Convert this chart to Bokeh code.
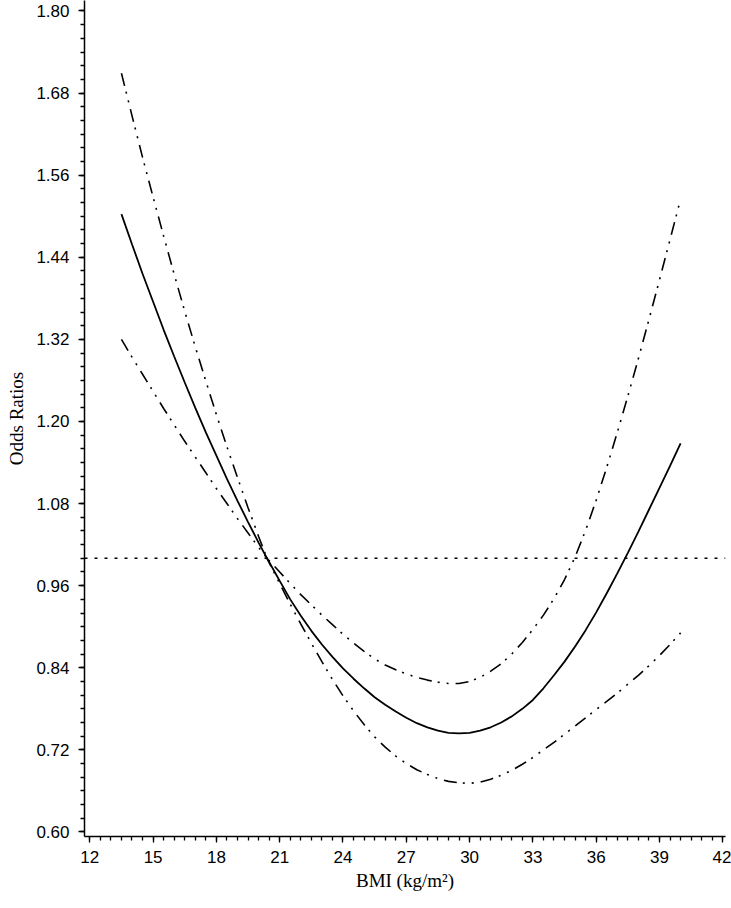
from bokeh.plotting import figure
from bokeh.models import Range1d, Span, FixedTicker, NumeralTickFormatter
from bokeh.embed import file_html
from bokeh.resources import INLINE

# BMI (kg/m^2) positions at which the curves were read
bmi = [13.5, 14, 14.5, 15, 15.5, 16, 16.5, 17, 17.5, 18, 18.5, 19, 19.5, 20, 20.4,
       21, 21.5, 22, 22.5, 23, 23.5, 24, 24.5, 25, 25.5, 26, 26.5, 27, 27.5, 28,
       28.5, 29, 29.5, 30, 30.5, 31, 31.5, 32, 32.5, 33, 33.5, 34, 34.5, 35, 35.5,
       36, 36.5, 37, 37.5, 38, 38.5, 39, 39.5, 40]
# Odds ratio (solid line)
odds_ratio = [1.503, 1.459, 1.416, 1.375, 1.334, 1.295, 1.257, 1.220, 1.184, 1.150,
              1.116, 1.084, 1.053, 1.023, 1.000,
              0.967, 0.940, 0.916, 0.894, 0.874, 0.856, 0.839, 0.824, 0.810, 0.797,
              0.786, 0.776, 0.767, 0.759, 0.753, 0.748, 0.745, 0.744, 0.745, 0.748,
              0.753, 0.760, 0.769, 0.780, 0.793, 0.810, 0.829, 0.849, 0.871, 0.895,
              0.921, 0.949, 0.978, 1.008, 1.039, 1.071, 1.103, 1.135, 1.168]
# Upper 95% confidence limit
upper_ci = [1.709, 1.647, 1.586, 1.528, 1.471, 1.415, 1.361, 1.309, 1.259, 1.210,
            1.163, 1.118, 1.074, 1.032, 1.000,
            0.980, 0.963, 0.947, 0.932, 0.917, 0.903, 0.889, 0.876, 0.864, 0.853,
            0.844, 0.837, 0.831, 0.826, 0.822, 0.819, 0.817, 0.817, 0.820, 0.826,
            0.835, 0.846, 0.860, 0.877, 0.896, 0.917, 0.941, 0.969, 1.002, 1.041,
            1.085, 1.133, 1.184, 1.237, 1.292, 1.349, 1.407, 1.466, 1.525]
# Lower 95% confidence limit
lower_ci = [1.320, 1.294, 1.269, 1.244, 1.219, 1.195, 1.171, 1.148, 1.125, 1.102,
            1.080, 1.058, 1.037, 1.016, 1.000,
            0.963, 0.933, 0.904, 0.876, 0.849, 0.823, 0.799, 0.777, 0.757, 0.739,
            0.724, 0.711, 0.700, 0.691, 0.684, 0.678, 0.674, 0.672, 0.671, 0.673,
            0.677, 0.683, 0.690, 0.699, 0.709, 0.720, 0.731, 0.743, 0.755, 0.767,
            0.779, 0.791, 0.803, 0.816, 0.829, 0.843, 0.858, 0.874, 0.891]
reference_or = 1.0

x_ticks = [12, 15, 18, 21, 24, 27, 30, 33, 36, 39, 42]
y_ticks = [0.60, 0.72, 0.84, 0.96, 1.08, 1.20, 1.32, 1.44, 1.56, 1.68, 1.80]
x_minor = [12 + 0.5 * i for i in range(61)]
y_minor = [round(0.60 + 0.02 * i, 2) for i in range(61)]

p = figure(width=731, height=906, output_backend="svg", toolbar_location=None,
           x_range=Range1d(11.749, 42.128), y_range=Range1d(0.5934, 1.8153),
           min_border_left=84, min_border_right=6, min_border_top=0,
           min_border_bottom=70)
p.outline_line_color = None
p.grid.visible = False
p.background_fill_color = "white"
p.border_fill_color = "white"

p.add_layout(Span(location=reference_or, dimension="width", line_color="black",
                  line_width=1.5, line_dash="3 7"))

p.line(bmi, upper_ci, line_color="black", line_width=1.6, line_dash="13 6 2 7 2 7")
p.line(bmi, lower_ci, line_color="black", line_width=1.6, line_dash="13 6 2 7 2 7")
p.line(bmi, odds_ratio, line_color="black", line_width=1.8)

p.xaxis.ticker = FixedTicker(ticks=x_ticks, minor_ticks=x_minor)
p.yaxis.ticker = FixedTicker(ticks=y_ticks, minor_ticks=y_minor)
p.yaxis.formatter = NumeralTickFormatter(format="0.00")

for ax in (p.xaxis[0], p.yaxis[0]):
    ax.axis_line_color = "black"
    ax.axis_line_width = 1.5
    ax.major_tick_line_color = "black"
    ax.minor_tick_line_color = "black"
    ax.major_tick_line_width = 1.3
    ax.minor_tick_line_width = 1.3
    ax.major_tick_out = 6
    ax.major_tick_in = 0
    ax.minor_tick_out = 4
    ax.minor_tick_in = 0
    ax.major_label_text_font = "Liberation Sans"
    ax.major_label_text_font_size = "17px"
    ax.major_label_text_color = "black"
    ax.axis_label_text_font = "Liberation Serif"
    ax.axis_label_text_font_size = "19px"
    ax.axis_label_text_font_style = "normal"
    ax.axis_label_text_color = "black"

p.xaxis.axis_label = "BMI (kg/m²)"
p.yaxis.axis_label = "Odds Ratios"
p.yaxis.major_label_standoff = 9
p.xaxis.major_label_standoff = 8
p.yaxis.axis_label_standoff = 6
p.xaxis.axis_label_standoff = 4

open("out.html", "w").write(file_html(p, INLINE))
